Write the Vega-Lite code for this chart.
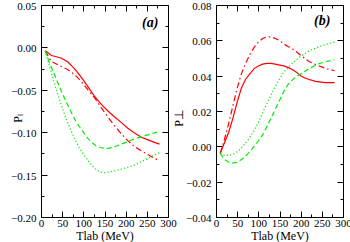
{
  "$schema": "https://vega.github.io/schema/vega-lite/v6.json",
  "background": "white",
  "padding": {"left": 10, "top": 0, "right": 6, "bottom": 0},
  "bounds": "flush",
  "spacing": 48,
  "config": {
    "view": {"stroke": "black", "strokeWidth": 1},
    "axis": {"labelFont": "Liberation Serif", "titleFont": "Liberation Serif", "labelFontSize": 11, "titleFontSize": 12, "titleFontWeight": "normal", "grid": false, "domain": false, "tickColor": "black", "labelColor": "black", "titleColor": "black", "tickWidth": 1}
  },
  "datasets": {
    "a": [
      {"s": "solid", "x": 10, "y": -0.004}, {"s": "solid", "x": 25, "y": -0.0095}, {"s": "solid", "x": 47, "y": -0.0125}, {"s": "solid", "x": 63, "y": -0.017}, {"s": "solid", "x": 79, "y": -0.025}, {"s": "solid", "x": 95, "y": -0.035}, {"s": "solid", "x": 110, "y": -0.0457}, {"s": "solid", "x": 126, "y": -0.0574}, {"s": "solid", "x": 142, "y": -0.067}, {"s": "solid", "x": 158, "y": -0.075}, {"s": "solid", "x": 174, "y": -0.082}, {"s": "solid", "x": 190, "y": -0.0887}, {"s": "solid", "x": 205, "y": -0.0953}, {"s": "solid", "x": 221, "y": -0.101}, {"s": "solid", "x": 237, "y": -0.106}, {"s": "solid", "x": 253, "y": -0.109}, {"s": "solid", "x": 268, "y": -0.112}, {"s": "solid", "x": 280, "y": -0.114},
      {"s": "dashdot", "x": 10, "y": -0.004}, {"s": "dashdot", "x": 24, "y": -0.0164}, {"s": "dashdot", "x": 47, "y": -0.0223}, {"s": "dashdot", "x": 63, "y": -0.026}, {"s": "dashdot", "x": 79, "y": -0.032}, {"s": "dashdot", "x": 95, "y": -0.040}, {"s": "dashdot", "x": 110, "y": -0.0496}, {"s": "dashdot", "x": 126, "y": -0.059}, {"s": "dashdot", "x": 142, "y": -0.071}, {"s": "dashdot", "x": 158, "y": -0.082}, {"s": "dashdot", "x": 174, "y": -0.0926}, {"s": "dashdot", "x": 190, "y": -0.102}, {"s": "dashdot", "x": 205, "y": -0.110}, {"s": "dashdot", "x": 221, "y": -0.117}, {"s": "dashdot", "x": 237, "y": -0.122}, {"s": "dashdot", "x": 253, "y": -0.1266}, {"s": "dashdot", "x": 280, "y": -0.134},
      {"s": "dashed", "x": 10, "y": -0.004}, {"s": "dashed", "x": 20, "y": -0.018}, {"s": "dashed", "x": 30, "y": -0.030}, {"s": "dashed", "x": 40, "y": -0.042}, {"s": "dashed", "x": 50, "y": -0.054}, {"s": "dashed", "x": 60, "y": -0.065}, {"s": "dashed", "x": 70, "y": -0.075}, {"s": "dashed", "x": 80, "y": -0.085}, {"s": "dashed", "x": 90, "y": -0.093}, {"s": "dashed", "x": 100, "y": -0.100}, {"s": "dashed", "x": 110, "y": -0.107}, {"s": "dashed", "x": 120, "y": -0.112}, {"s": "dashed", "x": 130, "y": -0.116}, {"s": "dashed", "x": 140, "y": -0.118}, {"s": "dashed", "x": 150, "y": -0.119}, {"s": "dashed", "x": 160, "y": -0.119}, {"s": "dashed", "x": 180, "y": -0.116}, {"s": "dashed", "x": 200, "y": -0.112}, {"s": "dashed", "x": 220, "y": -0.108}, {"s": "dashed", "x": 240, "y": -0.105}, {"s": "dashed", "x": 260, "y": -0.102}, {"s": "dashed", "x": 280, "y": -0.099},
      {"s": "dotted", "x": 10, "y": -0.004}, {"s": "dotted", "x": 20, "y": -0.022}, {"s": "dotted", "x": 30, "y": -0.040}, {"s": "dotted", "x": 40, "y": -0.056}, {"s": "dotted", "x": 50, "y": -0.071}, {"s": "dotted", "x": 60, "y": -0.085}, {"s": "dotted", "x": 70, "y": -0.097}, {"s": "dotted", "x": 80, "y": -0.108}, {"s": "dotted", "x": 90, "y": -0.118}, {"s": "dotted", "x": 100, "y": -0.126}, {"s": "dotted", "x": 110, "y": -0.133}, {"s": "dotted", "x": 120, "y": -0.139}, {"s": "dotted", "x": 130, "y": -0.144}, {"s": "dotted", "x": 140, "y": -0.147}, {"s": "dotted", "x": 150, "y": -0.148}, {"s": "dotted", "x": 160, "y": -0.147}, {"s": "dotted", "x": 180, "y": -0.145}, {"s": "dotted", "x": 200, "y": -0.142}, {"s": "dotted", "x": 220, "y": -0.139}, {"s": "dotted", "x": 240, "y": -0.134}, {"s": "dotted", "x": 260, "y": -0.129}, {"s": "dotted", "x": 280, "y": -0.124}
    ],
    "b": [
      {"s": "solid", "x": 10, "y": -0.004}, {"s": "solid", "x": 20, "y": 0.002}, {"s": "solid", "x": 30, "y": 0.008}, {"s": "solid", "x": 40, "y": 0.016}, {"s": "solid", "x": 50, "y": 0.025}, {"s": "solid", "x": 60, "y": 0.033}, {"s": "solid", "x": 70, "y": 0.038}, {"s": "solid", "x": 80, "y": 0.041}, {"s": "solid", "x": 90, "y": 0.044}, {"s": "solid", "x": 100, "y": 0.0455}, {"s": "solid", "x": 110, "y": 0.0465}, {"s": "solid", "x": 120, "y": 0.047}, {"s": "solid", "x": 130, "y": 0.047}, {"s": "solid", "x": 140, "y": 0.0465}, {"s": "solid", "x": 150, "y": 0.046}, {"s": "solid", "x": 160, "y": 0.0455}, {"s": "solid", "x": 170, "y": 0.0447}, {"s": "solid", "x": 180, "y": 0.0435}, {"s": "solid", "x": 190, "y": 0.042}, {"s": "solid", "x": 200, "y": 0.040}, {"s": "solid", "x": 210, "y": 0.0387}, {"s": "solid", "x": 220, "y": 0.0378}, {"s": "solid", "x": 235, "y": 0.0368}, {"s": "solid", "x": 258, "y": 0.0361}, {"s": "solid", "x": 280, "y": 0.0361},
      {"s": "dashdot", "x": 10, "y": -0.004}, {"s": "dashdot", "x": 20, "y": 0.004}, {"s": "dashdot", "x": 30, "y": 0.013}, {"s": "dashdot", "x": 40, "y": 0.023}, {"s": "dashdot", "x": 50, "y": 0.033}, {"s": "dashdot", "x": 60, "y": 0.041}, {"s": "dashdot", "x": 70, "y": 0.047}, {"s": "dashdot", "x": 80, "y": 0.052}, {"s": "dashdot", "x": 90, "y": 0.056}, {"s": "dashdot", "x": 100, "y": 0.059}, {"s": "dashdot", "x": 110, "y": 0.061}, {"s": "dashdot", "x": 120, "y": 0.062}, {"s": "dashdot", "x": 130, "y": 0.062}, {"s": "dashdot", "x": 140, "y": 0.061}, {"s": "dashdot", "x": 150, "y": 0.060}, {"s": "dashdot", "x": 160, "y": 0.058}, {"s": "dashdot", "x": 170, "y": 0.0565}, {"s": "dashdot", "x": 180, "y": 0.0553}, {"s": "dashdot", "x": 190, "y": 0.0535}, {"s": "dashdot", "x": 200, "y": 0.0515}, {"s": "dashdot", "x": 220, "y": 0.048}, {"s": "dashdot", "x": 240, "y": 0.0458}, {"s": "dashdot", "x": 260, "y": 0.044}, {"s": "dashdot", "x": 280, "y": 0.0428},
      {"s": "dashed", "x": 10, "y": -0.004}, {"s": "dashed", "x": 20, "y": -0.0075}, {"s": "dashed", "x": 30, "y": -0.009}, {"s": "dashed", "x": 40, "y": -0.0095}, {"s": "dashed", "x": 50, "y": -0.009}, {"s": "dashed", "x": 60, "y": -0.0075}, {"s": "dashed", "x": 70, "y": -0.0055}, {"s": "dashed", "x": 80, "y": -0.003}, {"s": "dashed", "x": 90, "y": 0.0}, {"s": "dashed", "x": 100, "y": 0.003}, {"s": "dashed", "x": 110, "y": 0.0065}, {"s": "dashed", "x": 120, "y": 0.011}, {"s": "dashed", "x": 130, "y": 0.016}, {"s": "dashed", "x": 140, "y": 0.021}, {"s": "dashed", "x": 150, "y": 0.026}, {"s": "dashed", "x": 160, "y": 0.031}, {"s": "dashed", "x": 170, "y": 0.035}, {"s": "dashed", "x": 180, "y": 0.0375}, {"s": "dashed", "x": 190, "y": 0.0395}, {"s": "dashed", "x": 200, "y": 0.041}, {"s": "dashed", "x": 220, "y": 0.044}, {"s": "dashed", "x": 240, "y": 0.0465}, {"s": "dashed", "x": 260, "y": 0.048}, {"s": "dashed", "x": 280, "y": 0.049},
      {"s": "dotted", "x": 10, "y": -0.004}, {"s": "dotted", "x": 20, "y": -0.005}, {"s": "dotted", "x": 30, "y": -0.0052}, {"s": "dotted", "x": 40, "y": -0.0045}, {"s": "dotted", "x": 50, "y": -0.003}, {"s": "dotted", "x": 60, "y": -0.001}, {"s": "dotted", "x": 70, "y": 0.002}, {"s": "dotted", "x": 80, "y": 0.005}, {"s": "dotted", "x": 90, "y": 0.009}, {"s": "dotted", "x": 100, "y": 0.0135}, {"s": "dotted", "x": 110, "y": 0.019}, {"s": "dotted", "x": 120, "y": 0.024}, {"s": "dotted", "x": 130, "y": 0.029}, {"s": "dotted", "x": 140, "y": 0.034}, {"s": "dotted", "x": 150, "y": 0.038}, {"s": "dotted", "x": 160, "y": 0.042}, {"s": "dotted", "x": 180, "y": 0.047}, {"s": "dotted", "x": 200, "y": 0.051}, {"s": "dotted", "x": 220, "y": 0.054}, {"s": "dotted", "x": 240, "y": 0.056}, {"s": "dotted", "x": 260, "y": 0.0578}, {"s": "dotted", "x": 280, "y": 0.059}
    ],
    "labels": [
      {"p": "a", "x": 258, "y": 0.029, "t": "(a)"},
      {"p": "b", "x": 251, "y": 0.0712, "t": "(b)"}
    ]
  },
  "hconcat": [
    {
      "width": 127,
      "height": 212,
      "data": {"name": "a"},
      "resolve": {"axis": {"x": "independent", "y": "independent"}},
      "layer": [
        {
          "transform": [{"filter": "datum.s === 'solid'"}],
          "mark": {"type": "line", "color": "#ff0000", "strokeWidth": 1.2},
          "encoding": {
            "x": {"field": "x", "type": "quantitative", "scale": {"domain": [0, 300], "nice": false}, "axis": {"orient": "bottom", "values": [0, 50, 100, 150, 200, 250, 300], "tickSize": -6, "labelPadding": 6, "title": "Tlab (MeV)", "titlePadding": 2, "format": "d", "labelFlush": false}},
            "y": {"field": "y", "type": "quantitative", "scale": {"domain": [-0.2, 0.05], "nice": false, "zero": false}, "axis": {"orient": "left", "values": [-0.2, -0.15, -0.1, -0.05, 0, 0.05], "tickSize": -6, "labelPadding": 11, "labelOffset": 1.5, "format": ".2f", "title": "Pₗ", "titleX": -17, "titleY": 113, "labelFlush": false}}
          }
        },
        {
          "transform": [{"filter": "datum.s === 'dashdot'"}],
          "mark": {"type": "line", "color": "#ff0000", "strokeWidth": 1.2, "strokeDash": [6, 3, 1.5, 3]},
          "encoding": {
            "x": {"field": "x", "type": "quantitative", "axis": {"orient": "bottom", "values": [25, 75, 125, 175, 225, 275], "tickSize": -3, "labels": false, "title": null}},
            "y": {"field": "y", "type": "quantitative", "axis": {"orient": "left", "values": [-0.175, -0.125, -0.075, -0.025, 0.025], "tickSize": -3, "labels": false, "title": null}}
          }
        },
        {
          "transform": [{"filter": "datum.s === 'dashed'"}],
          "mark": {"type": "line", "color": "#00ee00", "strokeWidth": 1.2, "strokeDash": [5, 3]},
          "encoding": {
            "x": {"field": "x", "type": "quantitative", "axis": {"orient": "top", "values": [0, 50, 100, 150, 200, 250, 300], "tickSize": -6, "labels": false, "title": null}},
            "y": {"field": "y", "type": "quantitative", "axis": {"orient": "right", "values": [-0.2, -0.15, -0.1, -0.05, 0, 0.05], "tickSize": -6, "labels": false, "title": null}}
          }
        },
        {
          "transform": [{"filter": "datum.s === 'dotted'"}],
          "mark": {"type": "line", "color": "#00ee00", "strokeWidth": 1.2, "strokeDash": [1.2, 2.2]},
          "encoding": {
            "x": {"field": "x", "type": "quantitative", "axis": {"orient": "top", "values": [25, 75, 125, 175, 225, 275], "tickSize": -3, "labels": false, "title": null}},
            "y": {"field": "y", "type": "quantitative", "axis": {"orient": "right", "values": [-0.175, -0.125, -0.075, -0.025, 0.025], "tickSize": -3, "labels": false, "title": null}}
          }
        },
        {
          "data": {"name": "labels"},
          "transform": [{"filter": "datum.p === 'a'"}],
          "mark": {"type": "text", "font": "Liberation Serif", "fontSize": 14, "fontWeight": "bold", "fontStyle": "italic", "color": "black"},
          "encoding": {
            "x": {"field": "x", "type": "quantitative", "axis": null},
            "y": {"field": "y", "type": "quantitative", "axis": null},
            "text": {"field": "t"}
          }
        }
      ]
    },
    {
      "width": 127,
      "height": 212,
      "data": {"name": "b"},
      "resolve": {"axis": {"x": "independent", "y": "independent"}},
      "layer": [
        {
          "transform": [{"filter": "datum.s === 'solid'"}],
          "mark": {"type": "line", "color": "#ff0000", "strokeWidth": 1.2},
          "encoding": {
            "x": {"field": "x", "type": "quantitative", "scale": {"domain": [0, 300], "nice": false}, "axis": {"orient": "bottom", "values": [0, 50, 100, 150, 200, 250, 300], "tickSize": -6, "labelPadding": 6, "title": "Tlab (MeV)", "titlePadding": 2, "format": "d", "labelFlush": false}},
            "y": {"field": "y", "type": "quantitative", "scale": {"domain": [-0.04, 0.08], "nice": false, "zero": false}, "axis": {"orient": "left", "values": [-0.04, -0.02, 0, 0.02, 0.04, 0.06, 0.08], "tickSize": -6, "labelPadding": 11, "labelOffset": 1.5, "format": ".2f", "title": "P⊥", "titleX": -31, "titleY": 113, "labelFlush": false}}
          }
        },
        {
          "transform": [{"filter": "datum.s === 'dashdot'"}],
          "mark": {"type": "line", "color": "#ff0000", "strokeWidth": 1.2, "strokeDash": [6, 3, 1.5, 3]},
          "encoding": {
            "x": {"field": "x", "type": "quantitative", "axis": {"orient": "bottom", "values": [25, 75, 125, 175, 225, 275], "tickSize": -3, "labels": false, "title": null}},
            "y": {"field": "y", "type": "quantitative", "axis": {"orient": "left", "values": [-0.03, -0.01, 0.01, 0.03, 0.05, 0.07], "tickSize": -3, "labels": false, "title": null}}
          }
        },
        {
          "transform": [{"filter": "datum.s === 'dashed'"}],
          "mark": {"type": "line", "color": "#00ee00", "strokeWidth": 1.2, "strokeDash": [5, 3]},
          "encoding": {
            "x": {"field": "x", "type": "quantitative", "axis": {"orient": "top", "values": [0, 50, 100, 150, 200, 250, 300], "tickSize": -6, "labels": false, "title": null}},
            "y": {"field": "y", "type": "quantitative", "axis": {"orient": "right", "values": [-0.04, -0.02, 0, 0.02, 0.04, 0.06, 0.08], "tickSize": -6, "labels": false, "title": null}}
          }
        },
        {
          "transform": [{"filter": "datum.s === 'dotted'"}],
          "mark": {"type": "line", "color": "#00ee00", "strokeWidth": 1.2, "strokeDash": [1.2, 2.2]},
          "encoding": {
            "x": {"field": "x", "type": "quantitative", "axis": {"orient": "top", "values": [25, 75, 125, 175, 225, 275], "tickSize": -3, "labels": false, "title": null}},
            "y": {"field": "y", "type": "quantitative", "axis": {"orient": "right", "values": [-0.03, -0.01, 0.01, 0.03, 0.05, 0.07], "tickSize": -3, "labels": false, "title": null}}
          }
        },
        {
          "data": {"name": "labels"},
          "transform": [{"filter": "datum.p === 'b'"}],
          "mark": {"type": "text", "font": "Liberation Serif", "fontSize": 14, "fontWeight": "bold", "fontStyle": "italic", "color": "black"},
          "encoding": {
            "x": {"field": "x", "type": "quantitative", "axis": null},
            "y": {"field": "y", "type": "quantitative", "axis": null},
            "text": {"field": "t"}
          }
        }
      ]
    }
  ]
}
